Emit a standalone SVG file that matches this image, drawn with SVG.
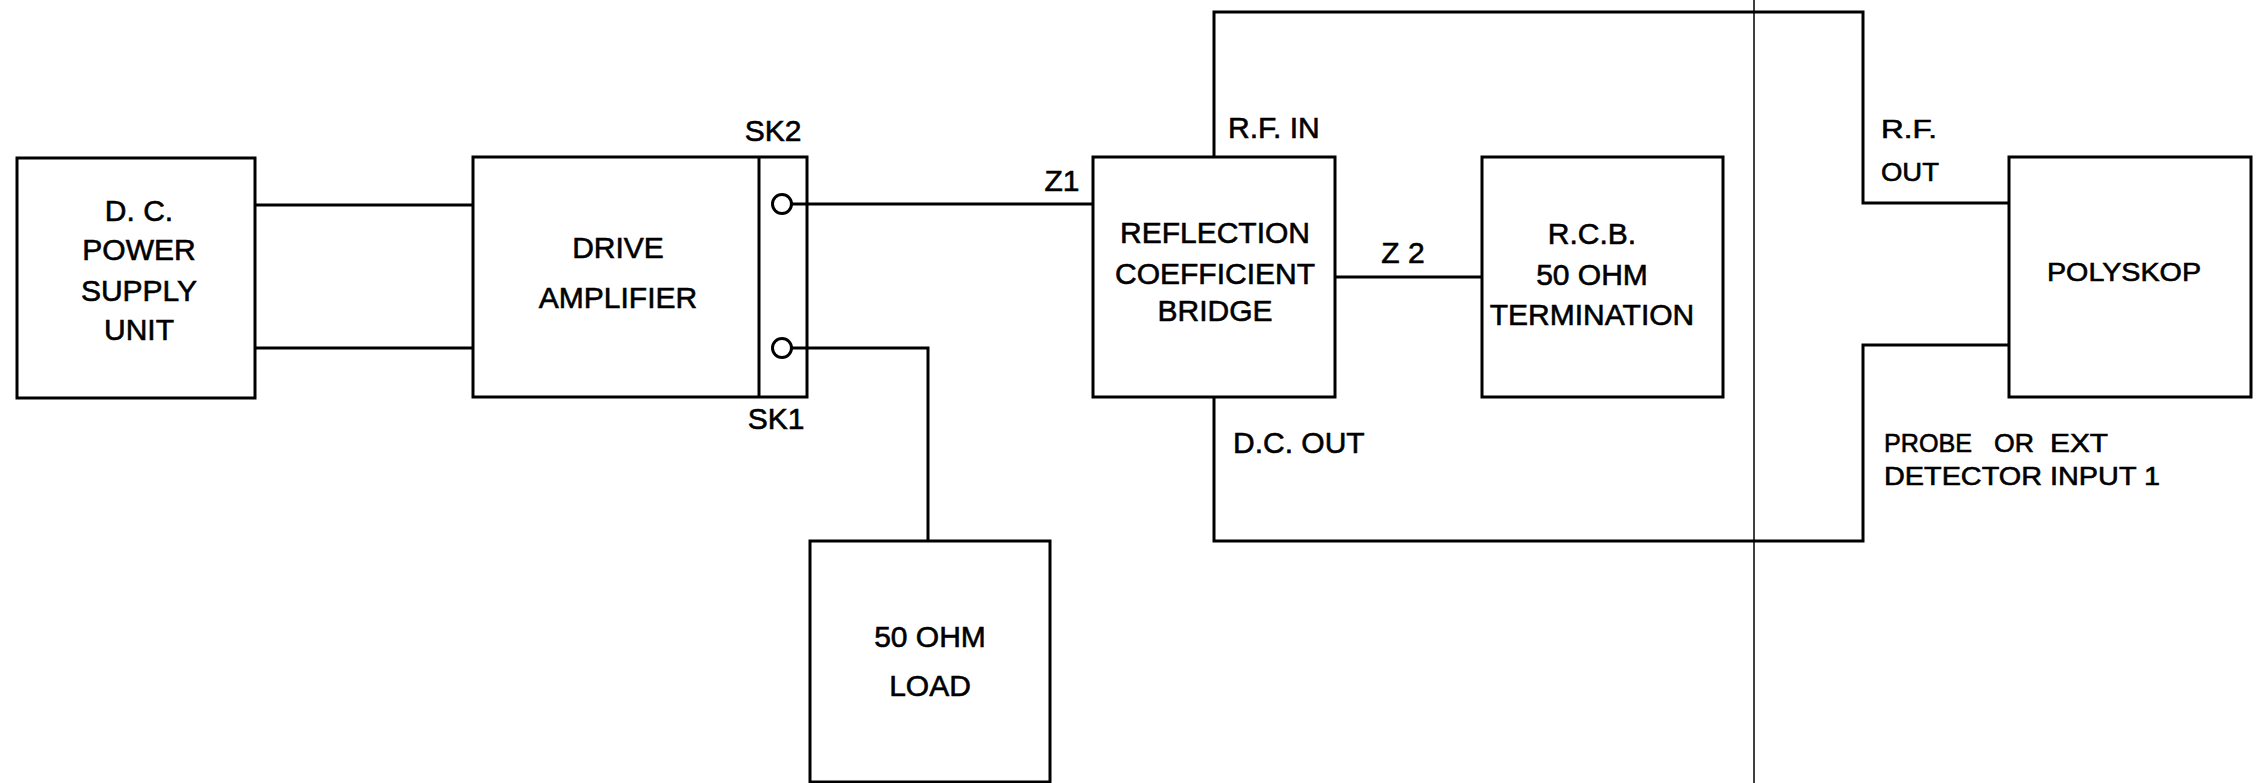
<svg xmlns="http://www.w3.org/2000/svg" width="2256" height="783" viewBox="0 0 2256 783">
<style>
  .box { fill: none; stroke: #000; stroke-width: 3; }
  .wire { fill: none; stroke: #000; stroke-width: 3; stroke-linejoin: miter; }
  .thin { fill: none; stroke: #000; stroke-width: 1.5; }
  .t { font-family: "Liberation Sans", Arial, sans-serif; font-size: 30px; fill: #000; stroke: #000; stroke-width: 0.6; text-anchor: middle; }
  .l { font-family: "Liberation Sans", Arial, sans-serif; font-size: 30px; fill: #000; stroke: #000; stroke-width: 0.6; }
  .r { font-family: "Liberation Sans", Arial, sans-serif; font-size: 26px; fill: #000; stroke: #000; stroke-width: 0.6; }
</style>
<rect width="2256" height="783" fill="#fff"/>

<g id="connectors">
  <line class="wire" x1="255" y1="205" x2="473" y2="205"/>
  <line class="wire" x1="255" y1="348" x2="473" y2="348"/>
  <line class="wire" x1="791.5" y1="204" x2="1093" y2="204"/>
  <polyline class="wire" points="791.5,348 928,348 928,541"/>
  <line class="wire" x1="1335" y1="277" x2="1482" y2="277"/>
  <polyline class="wire" points="1214,157 1214,12 1863,12 1863,203 2009,203"/>
  <polyline class="wire" points="1214,397 1214,541 1863,541 1863,345 2009,345"/>
  <line class="thin" x1="1754" y1="0" x2="1754" y2="783"/>
</g>

<g id="psu">
  <rect class="box" x="17" y="158" width="238" height="240"/>
  <text class="t" x="139" y="221">D. C.</text>
  <text class="t" x="139" y="260">POWER</text>
  <text class="t" x="139" y="301">SUPPLY</text>
  <text class="t" x="139" y="340">UNIT</text>
</g>

<g id="drive-amplifier">
  <rect class="box" x="473" y="157" width="334" height="240"/>
  <line class="box" x1="759" y1="157" x2="759" y2="397"/>
  <circle class="box" cx="782" cy="204" r="9.5"/>
  <circle class="box" cx="782" cy="348" r="9.5"/>
  <text class="t" x="618" y="258">DRIVE</text>
  <text class="t" x="618" y="308">AMPLIFIER</text>
  <text class="t" x="773" y="141">SK2</text>
  <text class="t" x="776" y="429">SK1</text>
</g>

<g id="load">
  <rect class="box" x="810" y="541" width="240" height="241"/>
  <text class="t" x="930" y="647">50 OHM</text>
  <text class="t" x="930" y="696">LOAD</text>
</g>

<g id="bridge">
  <rect class="box" x="1093" y="157" width="242" height="240"/>
  <text class="t" x="1215" y="243">REFLECTION</text>
  <text class="t" x="1215" y="284">COEFFICIENT</text>
  <text class="t" x="1215" y="321">BRIDGE</text>
  <text class="t" x="1062" y="191">Z1</text>
  <text class="t" x="1403" y="263">Z 2</text>
  <text class="l" x="1228" y="138">R.F. IN</text>
  <text class="l" x="1233" y="453">D.C. OUT</text>
</g>

<g id="rcb-termination">
  <rect class="box" x="1482" y="157" width="241" height="240"/>
  <text class="t" x="1592" y="244">R.C.B.</text>
  <text class="t" x="1592" y="285">50 OHM</text>
  <text class="t" x="1592" y="325">TERMINATION</text>
</g>

<g id="polyskop">
  <rect class="box" x="2009" y="157" width="242" height="240"/>
  <text class="r" x="2047" y="281" textLength="154" lengthAdjust="spacingAndGlyphs">POLYSKOP</text>
  <text class="r" x="1881" y="138" textLength="56" lengthAdjust="spacingAndGlyphs">R.F.</text>
  <text class="r" x="1881" y="181" textLength="58" lengthAdjust="spacingAndGlyphs">OUT</text>
  <text class="r" x="1884" y="452" textLength="88" lengthAdjust="spacingAndGlyphs">PROBE</text>
  <text class="r" x="1994" y="452" textLength="40" lengthAdjust="spacingAndGlyphs">OR</text>
  <text class="r" x="2050" y="452" textLength="58" lengthAdjust="spacingAndGlyphs">EXT</text>
  <text class="r" x="1884" y="485" textLength="276" lengthAdjust="spacingAndGlyphs">DETECTOR INPUT 1</text>
</g>
</svg>
